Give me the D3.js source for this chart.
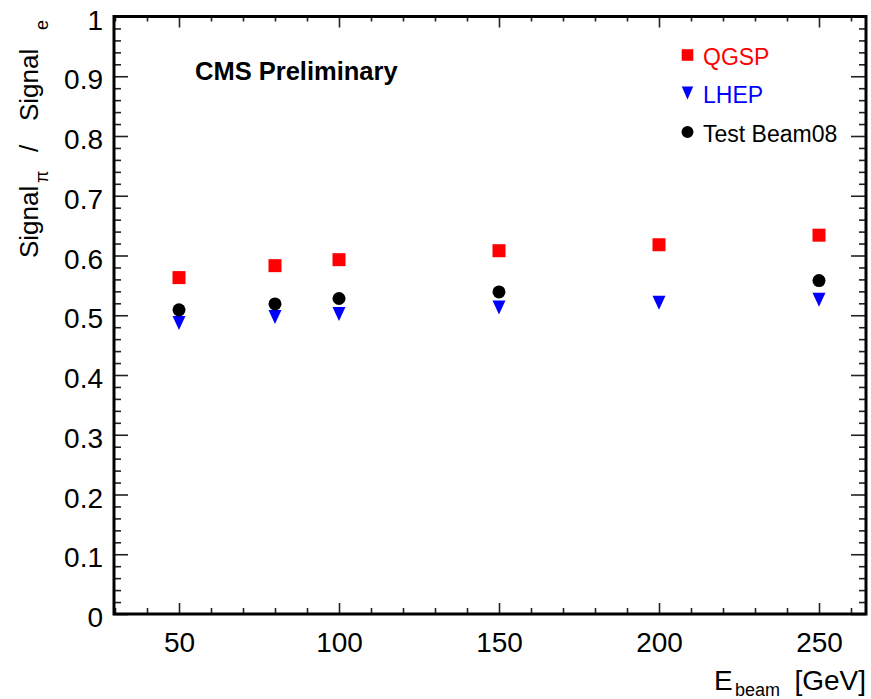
<!DOCTYPE html>
<html><head><meta charset="utf-8">
<script src="https://cdn.jsdelivr.net/npm/d3@7"></script>
<style>
body{margin:0;background:#fff}
svg{display:block}
text{font-family:"Liberation Sans", Arial, Helvetica, sans-serif}
</style>
</head><body>
<svg id="c" width="871" height="699"></svg>
<script>
// ---- data ----
const energiesQGSP = [50, 80, 100, 150, 200, 250];
const valuesQGSP   = [0.563, 0.583, 0.593, 0.608, 0.618, 0.634];
const energiesLHEP = [50, 80, 100, 150, 200, 250];
const valuesLHEP   = [0.487, 0.497, 0.502, 0.513, 0.521, 0.526];
const energiesTB   = [50, 80, 100, 150, 250];
const valuesTB     = [0.509, 0.519, 0.528, 0.539, 0.558];
const xTickValues  = [50, 100, 150, 200, 250];
const xTickLabels  = ["50", "100", "150", "200", "250"];
const yTickValues  = [0, 0.1, 0.2, 0.3, 0.4, 0.5, 0.6, 0.7, 0.8, 0.9, 1];
const yTickLabels  = ["0", "0.1", "0.2", "0.3", "0.4", "0.5", "0.6", "0.7", "0.8", "0.9", "1"];
const legendLabels = ["QGSP", "LHEP", "Test Beam08"];

// ---- layout ----
const L = 114, R = 866, T = 16.5, B = 614;
const svg = d3.select("#c");
svg.append("rect").attr("width", 871).attr("height", 699).attr("fill", "#fff");

const x = d3.scaleLinear().domain([29.69, 264.69]).range([L, R]);
const y = d3.scaleLinear().domain([0, 1]).range([B, T]);

const xMinor = d3.range(30, 265, 10).filter(v => v % 50 !== 0);
const yMinor = d3.range(0, 50).map(i => +(i * 0.02).toFixed(2)).filter((v, i) => i % 5 !== 0);

function styleAxis(g) {
  g.select(".domain").remove();
  g.selectAll(".tick line").attr("stroke", "#222").attr("stroke-width", 1.6);
}

// left axis
svg.append("g").attr("transform", `translate(${L},0)`)
  .call(d3.axisLeft(y).tickValues(yTickValues).tickFormat((d, i) => yTickLabels[i]).tickSize(-14).tickPadding(11))
  .call(styleAxis)
  .call(g => g.selectAll("text").attr("font-size", 28).attr("fill", "#000").attr("dy", "0.45em")
      .style("font-family", '"Liberation Sans", Arial, sans-serif'));
svg.append("g").attr("transform", `translate(${L},0)`)
  .call(d3.axisLeft(y).tickValues(yMinor).tickFormat("").tickSize(-7)).call(styleAxis);
// right axis
svg.append("g").attr("transform", `translate(${R},0)`)
  .call(d3.axisRight(y).tickValues(yTickValues).tickFormat("").tickSize(-15)).call(styleAxis);
svg.append("g").attr("transform", `translate(${R},0)`)
  .call(d3.axisRight(y).tickValues(yMinor).tickFormat("").tickSize(-7)).call(styleAxis);
// bottom axis
svg.append("g").attr("transform", `translate(0,${B})`)
  .call(d3.axisBottom(x).tickValues(xTickValues).tickFormat((d, i) => xTickLabels[i]).tickSize(-11).tickPadding(18))
  .call(styleAxis)
  .call(g => g.selectAll("text").attr("font-size", 28).attr("fill", "#000")
      .style("font-family", '"Liberation Sans", Arial, sans-serif'));
svg.append("g").attr("transform", `translate(0,${B})`)
  .call(d3.axisBottom(x).tickValues(xMinor).tickFormat("").tickSize(-6)).call(styleAxis);
// top axis
svg.append("g").attr("transform", `translate(0,${T})`)
  .call(d3.axisTop(x).tickValues(xTickValues).tickFormat("").tickSize(-11)).call(styleAxis);
svg.append("g").attr("transform", `translate(0,${T})`)
  .call(d3.axisTop(x).tickValues(xMinor).tickFormat("").tickSize(-5)).call(styleAxis);

// frame
svg.append("rect").attr("x", L).attr("y", T).attr("width", R - L).attr("height", B - T)
  .attr("fill", "none").attr("stroke", "#000").attr("stroke-width", 3);

// markers
const sq = d3.symbol().type(d3.symbolSquare).size(169);
const circ = d3.symbol().type(d3.symbolCircle).size(133);
const triDown = (w, h) => `M${-w/2},${-h/2}L${w/2},${-h/2}L0,${h/2}Z`;

svg.append("g").selectAll("path").data(energiesQGSP.map((e, i) => [e, valuesQGSP[i]]))
  .join("path").attr("d", sq).attr("fill", "#ff0000")
  .attr("transform", d => `translate(${x(d[0])},${y(d[1])})`);
svg.append("g").selectAll("path").data(energiesLHEP.map((e, i) => [e, valuesLHEP[i]]))
  .join("path").attr("d", triDown(13, 14)).attr("fill", "#0000ff")
  .attr("transform", d => `translate(${x(d[0])},${y(d[1])})`);
svg.append("g").selectAll("path").data(energiesTB.map((e, i) => [e, valuesTB[i]]))
  .join("path").attr("d", circ).attr("fill", "#000")
  .attr("transform", d => `translate(${x(d[0])},${y(d[1])})`);

// CMS Preliminary
svg.append("text").attr("x", 195).attr("y", 80).attr("font-size", 25.5).attr("font-weight", "bold")
  .attr("fill", "#000").text("CMS Preliminary");

// legend
const legColors = ["#ff0000", "#0000ff", "#000"];
const legY = [55, 93, 132];
const legMarks = [d3.symbol().type(d3.symbolSquare).size(135)(), triDown(11.5, 13), d3.symbol().type(d3.symbolCircle).size(113)()];
legendLabels.forEach((lab, i) => {
  svg.append("path").attr("d", legMarks[i]).attr("fill", legColors[i])
    .attr("transform", `translate(687.5,${legY[i]})`);
  svg.append("text").attr("x", 703).attr("y", legY[i] + 10).attr("font-size", 23)
    .attr("fill", legColors[i]).text(lab);
});

// y title
const yt = svg.append("g").attr("transform", "translate(38,258) rotate(-90)");
yt.append("text").attr("x", 0).attr("y", 0).attr("font-size", 26).text("Signal");
yt.append("text").attr("x", 75).attr("y", 10).attr("font-size", 18).text("π");
yt.append("text").attr("x", 106).attr("y", 0).attr("font-size", 26).text("/");
yt.append("text").attr("x", 137).attr("y", 0).attr("font-size", 26).text("Signal");
yt.append("text").attr("x", 228).attr("y", 10).attr("font-size", 18).text("e");

// x title
svg.append("text").attr("x", 714).attr("y", 690).attr("font-size", 28).text("E");
svg.append("text").attr("x", 735).attr("y", 696).attr("font-size", 18).text("beam");
svg.append("text").attr("x", 866).attr("y", 690).attr("font-size", 28).attr("text-anchor", "end").text("[GeV]");
</script>
</body></html>
